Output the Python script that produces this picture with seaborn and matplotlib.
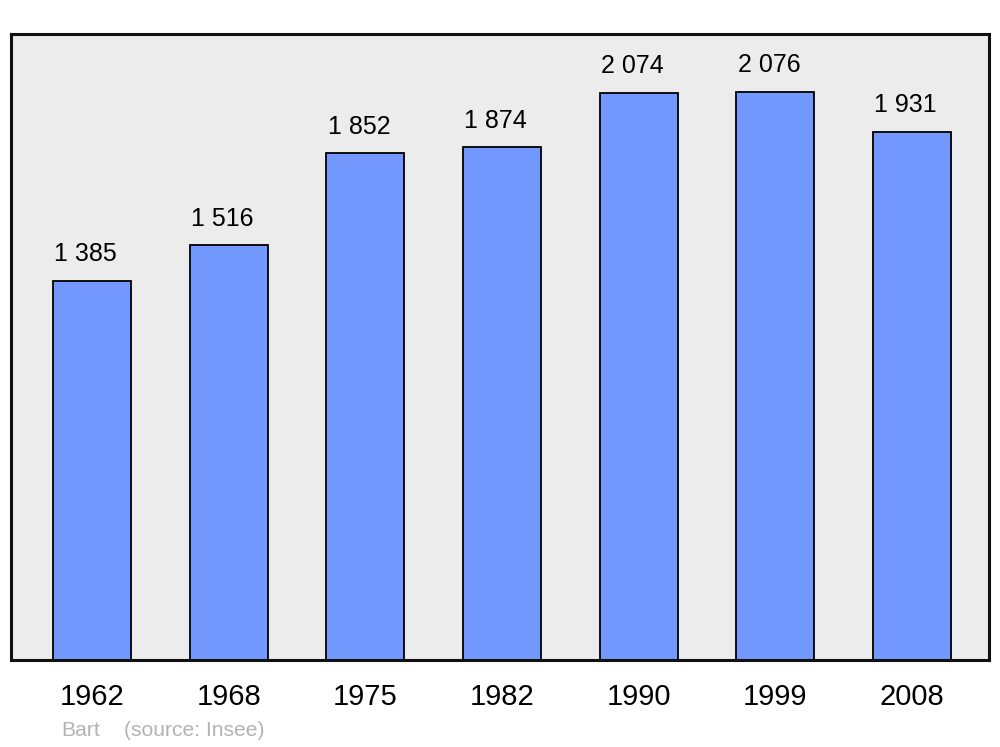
import matplotlib
matplotlib.use("Agg")
import matplotlib.pyplot as plt
import seaborn as sns
import pandas as pd

# data
years = ["1962", "1968", "1975", "1982", "1990", "1999", "2008"]
population = [1385, 1516, 1852, 1874, 2074, 2076, 1931]
value_labels = ["1 385", "1 516", "1 852", "1 874", "2 074", "2 076", "1 931"]

df = pd.DataFrame({"Year": years, "Population": population})

sns.set_theme(style="white")
plt.rcParams["font.family"] = ["Liberation Sans", "DejaVu Sans"]

fig = plt.figure(figsize=(10, 7.47), dpi=100)
ax = fig.add_axes([0.011, 1 - 660 / 747, 0.978, 626 / 747])

sns.barplot(
    data=df,
    x="Year",
    y="Population",
    color="#7399ff",
    saturation=1,
    width=0.571,
    edgecolor="black",
    linewidth=1.3,
    ax=ax,
)

ax.set_facecolor("#ececec")
ax.set_xlim(-0.593, 6.563)
ax.set_ylim(0, 2288)
ax.set_yticks([])
ax.set_xlabel("")
ax.set_ylabel("")
ax.tick_params(axis="x", length=0, pad=16.5, labelsize=21, labelcolor="black")

for s in ax.spines.values():
    s.set_visible(True)
    s.set_color("#111111")
    s.set_linewidth(2.2)

# value labels sit a bit left of the bar centre, like the original
for bar, lab in zip(ax.patches, value_labels):
    ax.annotate(
        lab,
        xy=(bar.get_x() + bar.get_width() / 2, bar.get_height()),
        xytext=(-4.5, 10.5),
        textcoords="offset points",
        ha="center",
        va="bottom",
        fontsize=18,
        color="black",
    )

fig.text(0.061, 1 - 736 / 747, "Bart", fontsize=15.2, color="#b3b3b3")
fig.text(0.124, 1 - 736 / 747, "(source: Insee)", fontsize=15.2, color="#b3b3b3")

fig.savefig("out.png", dpi=100, facecolor="white")
